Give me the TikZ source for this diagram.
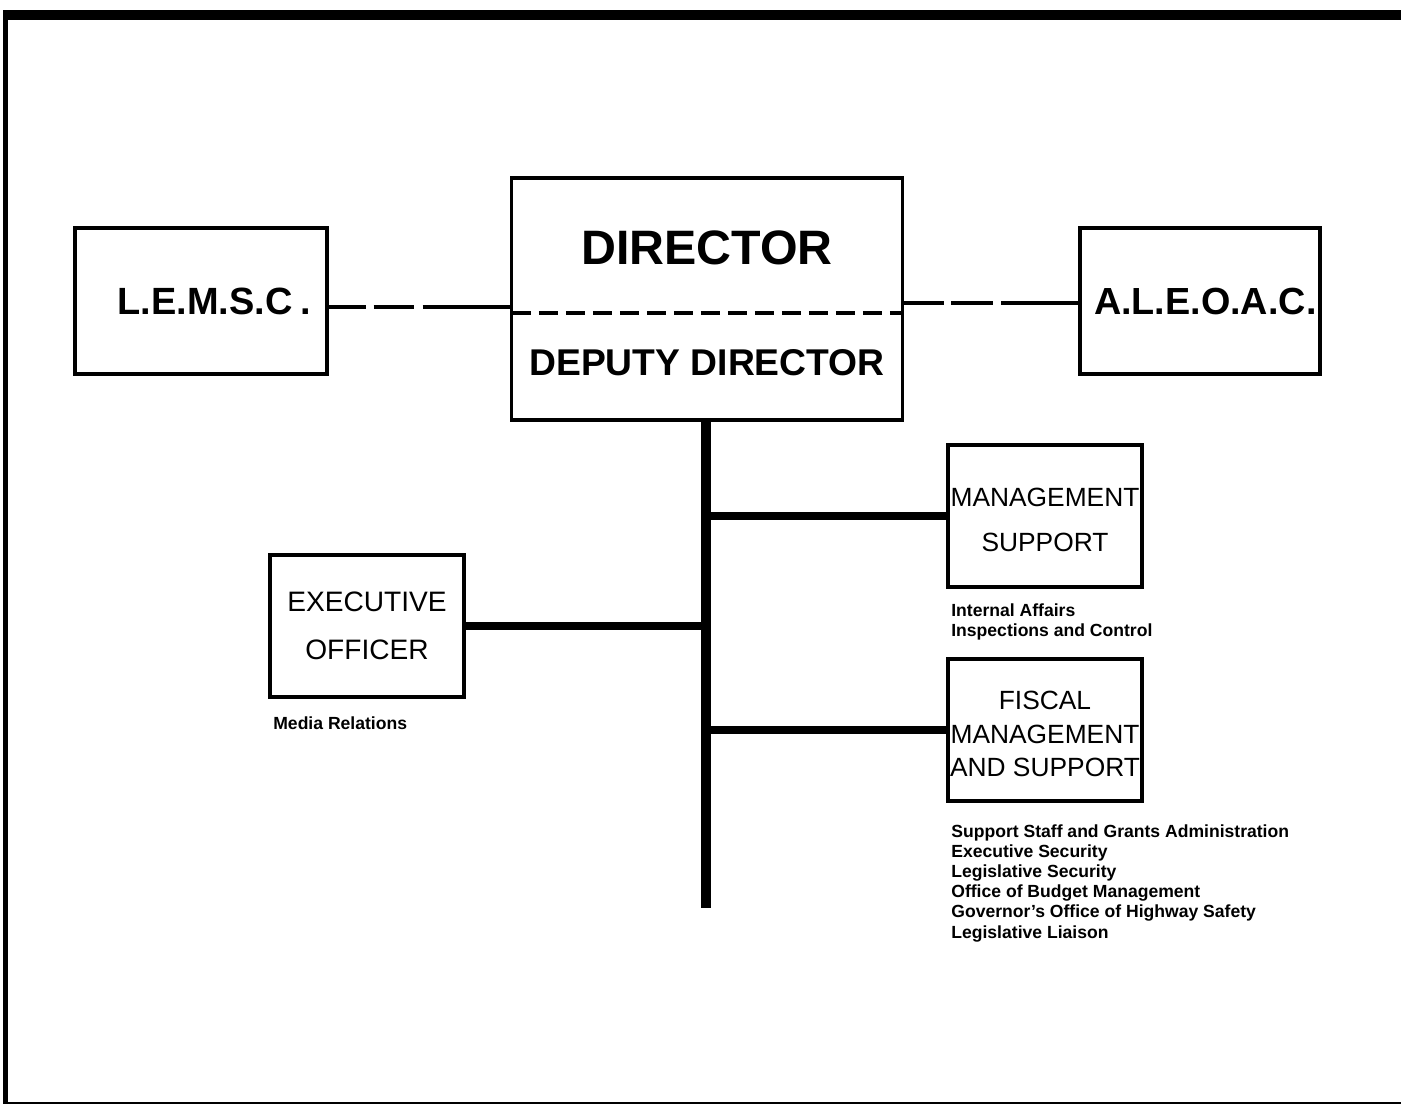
\documentclass[tikz,border=0pt]{standalone}
\usepackage{fontspec}
\setmainfont{Liberation Sans}
\usetikzlibrary{positioning}

\tikzset{
  unit/.style={draw, line width=2pt, inner sep=0pt, align=center},
  unitlbl/.style={inner sep=0pt, align=center},
  trunk/.style={line width=5.7pt},
  branch/.style={line width=5pt},
  advisory/.style={line width=2.3pt},
  note/.style={inner sep=0pt, anchor=north west, align=left, font=\fontsize{10}{11.5}\selectfont\bfseries}
}

\begin{document}
\begin{tikzpicture}[x=0.02cm,y=-0.02cm]
\useasboundingbox (0,0) rectangle (1401,1105);

%FRAME
\draw[line width=5.7pt] (3,15) -- (1401,15);
\draw[line width=2.8pt] (5.5,12) -- (5.5,1104);
\draw[line width=1.2pt] (4,1103) -- (1401,1103);

%TOP ROW
% director and deputy
\node[unit, minimum width=7.82cm, minimum height=4.84cm] (dir) at (707,299) {};
\node[font=\fontsize{27.5}{30}\selectfont\bfseries] (dirlbl) at (707,248) {DIRECTOR};
\node[font=\fontsize{21.2}{24}\selectfont\bfseries] (deplbl) at (707,363) {DEPUTY DIRECTOR};
\coordinate (divl) at (512,313);
\coordinate (divr) at (903,313);
\draw[line width=2.3pt, dash pattern=on 0.38cm off 0.16cm] (divl) -- (divr);
% side councils
\node[unit, minimum width=5.04cm, minimum height=2.92cm, font=\fontsize{21.6}{26}\selectfont\bfseries] (lemsc) at (201,301) {\hspace*{15pt}L.E.M.S.C\hspace{0.2em}.};
\node[unit, minimum width=4.8cm, minimum height=2.92cm, font=\fontsize{21.5}{26}\selectfont\bfseries] (aleoac) at (1200,301) {\hspace*{6pt}A.L.E.O.A.C.};

%LINKS TO COUNCILS
\draw[advisory, dash pattern=on 0.74cm off 0.16cm on 0.8cm off 0.18cm on 2cm off 0cm] ([yshift=-0.12cm]lemsc.east) -- ([yshift=-0.12cm]lemsc.east -| dir.west);
\draw[advisory, dash pattern=on 0.8cm off 0.14cm on 0.84cm off 0.16cm on 2cm off 0cm] ([yshift=-0.04cm]aleoac.west -| dir.east) -- ([yshift=-0.04cm]aleoac.west);

%STAFF UNITS
\node[unit, minimum width=3.88cm, minimum height=2.84cm] (mgmt) at (1045,516) {};
\node[unitlbl, font=\fontsize{15}{26}\selectfont] (mgmtlbl) at (1045,520) {MANAGEMENT\\SUPPORT};
\node[unit, minimum width=3.88cm, minimum height=2.84cm] (fiscal) at (1045,730) {};
\node[unitlbl, font=\fontsize{15}{19}\selectfont] (fiscallbl) at (1045,734) {FISCAL\\MANAGEMENT\\AND SUPPORT};
\node[unit, minimum width=3.88cm, minimum height=2.84cm, font=\fontsize{16}{27}\selectfont] (exec) at (367,626) {EXECUTIVE\\OFFICER};

%TRUNK
\coordinate (trunkend) at (706,908);
\draw[trunk] (dir.south -| trunkend) -- (trunkend);
\draw[branch] (mgmt.west) -- (mgmt.west -| trunkend);
\draw[branch] (fiscal.west) -- (fiscal.west -| trunkend);
\draw[branch] (exec.east) -- (exec.east -| trunkend);

%NOTES
\node[note] (mgmtnote) at (951,603) {Internal Affairs\\Inspections and Control};
\node[note] (execnote) at (273,716) {Media Relations};
\node[note] (fiscalnote) at (951,824) {Support Staff and Grants Administration\\Executive Security\\Legislative Security\\Office of Budget Management\\Governor's Office of Highway Safety\\Legislative Liaison};

\end{tikzpicture}
\end{document}
